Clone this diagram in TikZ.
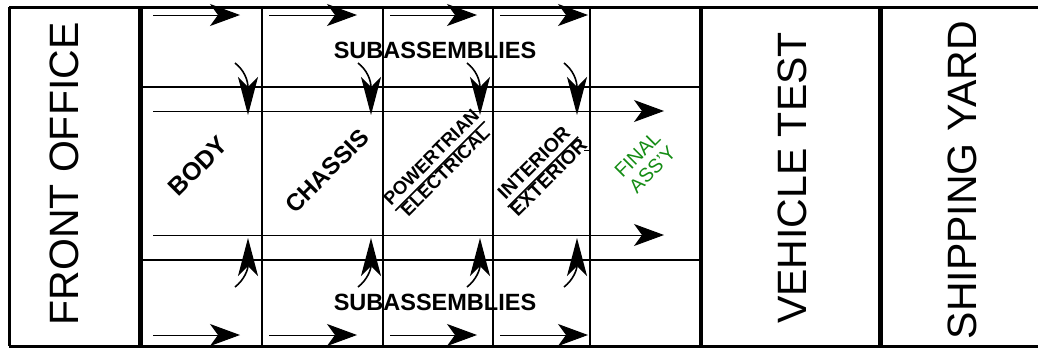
\documentclass[tikz,border=0pt]{standalone}
\usepackage{fontspec}
\setmainfont{Liberation Sans}
\usetikzlibrary{arrows.meta}
\definecolor{asmgreen}{RGB}{20,140,20}
\begin{document}
\begin{tikzpicture}[x=1pt,y=-1pt,
  flowarrow/.style={line width=1pt,-{Stealth[length=30pt,width=22pt,inset=8pt]}},
  feedarrow/.style={line width=1.6pt,-{Stealth[length=38pt,width=20pt,inset=10pt]}},
  bigtext/.style={font=\fontsize{41}{41}\selectfont,rotate=90,inner sep=0pt},
  subtext/.style={font=\fontsize{23.5}{23.5}\selectfont\bfseries,inner sep=0pt},
  celltext/.style={rotate=45,inner sep=0pt,align=center},
  gridline/.style={line width=2pt}]
\useasboundingbox (0,0) rectangle (1038,349);
\begin{scope}
\clip (0,0) rectangle (1038,349);
% outer frame
\draw[line width=3pt] (9,7) -- (1045,7);
\draw[line width=3pt] (9,346) -- (1045,346);
\draw[line width=3pt] (9,7) -- (9,346);
\end{scope}
% main dividers
\draw[line width=5pt] (140.5,7) -- (140.5,346);
\draw[line width=4.5pt] (701,7) -- (701,346);
\draw[line width=5pt] (880,7) -- (880,346);
% grid
\draw[gridline] (143,87) -- (699,87);
\draw[gridline] (143,260) -- (699,260);
\draw[line width=1.2pt] (262,7) -- (262,346);
\draw[gridline] (383,7) -- (383,346);
\draw[gridline] (493,7) -- (493,346);
\draw[gridline] (590,7) -- (590,346);
% big labels
\node[bigtext] (fo) at (64,174) {FRONT OFFICE};
\node[bigtext] (vt) at (792,178) {VEHICLE TEST};
\node[bigtext] (sy) at (962,180) {SHIPPING YARD};
% subassemblies labels
\node[subtext] (subtop) at (435,50) {SUBASSEMBLIES};
\node[subtext] (subbot) at (435,302) {SUBASSEMBLIES};
% main flow lines
\coordinate (mla) at (153,111); \coordinate (mlb) at (664,111);
\coordinate (mlc) at (153,235); \coordinate (mld) at (664,235);
\draw[flowarrow] (mla) -- (mlb);
\draw[flowarrow] (mlc) -- (mld);
% top and bottom subassembly flow arrows
\foreach \a/\b [count=\i] in {153/240,269/357,390/477,500/588}{
  \coordinate (ta\i) at (\a,15); \coordinate (tb\i) at (\b,15);
  \coordinate (ba\i) at (\a,335); \coordinate (bb\i) at (\b,335);
  \draw[flowarrow] (ta\i) -- (tb\i);
  \draw[flowarrow] (ba\i) -- (bb\i);
}
% feed arrows
\foreach \x [count=\i] in {248,371,480,577}{
  \coordinate (ft\i) at (\x-13,63); \coordinate (fh\i) at (\x,115);
  \draw[feedarrow] (ft\i) .. controls (\x-4,70) and (\x,80) .. (fh\i);
  \coordinate (gt\i) at (\x-13,287); \coordinate (gh\i) at (\x,238);
  \draw[feedarrow] (gt\i) .. controls (\x-4,280) and (\x,270) .. (gh\i);
}
% cell labels
\node[celltext,font=\fontsize{25}{25}\selectfont\bfseries] (body) at (198,166) {BODY};
\node[celltext,font=\fontsize{24}{24}\selectfont\bfseries] (chassis) at (327,171) {CHASSIS};
\setlength{\arrayrulewidth}{1.6pt}
\node[celltext,font=\fontsize{18.5}{18.5}\selectfont\bfseries] (pt) at (440,166)
  {\renewcommand\arraystretch{0.95}\begin{tabular}{@{}c@{}}POWERTRIAN\\\hline ELECTRICAL\end{tabular}};
\node[celltext,font=\fontsize{19.5}{19.5}\selectfont\bfseries] (ie) at (543,172)
  {\renewcommand\arraystretch{0.95}\begin{tabular}{@{}c@{}}INTERIOR\\\hline EXTERIOR\end{tabular}};
\node[celltext,font=\fontsize{19.5}{21}\selectfont,text=asmgreen] (fa) at (645,162)
  {FINAL\\ASS'Y};
\coordinate (stub) at (584,150);
\draw[line width=1pt] (stub) -- (589,150);
\end{tikzpicture}
\end{document}
